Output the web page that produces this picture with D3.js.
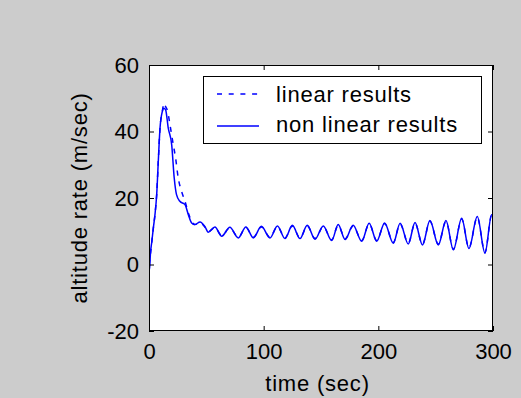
<!DOCTYPE html>
<html>
<head>
<meta charset="utf-8">
<script src="https://cdn.jsdelivr.net/npm/d3@7"></script>
<style>
  html, body { margin: 0; padding: 0; background: #cccccc; }
  svg { display: block; }
  text { font-family: "Liberation Sans", Arial, Helvetica, sans-serif; fill: #000; }
</style>
</head>
<body>
<svg id="chart" width="521" height="398"></svg>
<script>
// ---- data ----
const xTicks = [0, 100, 200, 300];
const yTicks = [-20, 0, 20, 40, 60];
const xLabel = "time (sec)";
const yLabel = "altitude rate (m/sec)";
const seriesNames = ["linear results", "non linear results"];

// non linear results (solid)
const nonlinTime = [0, 0.5, 1.2, 2.5, 3.8, 5.2, 6.7, 8.1, 9.6, 11.6, 13, 14.5, 16.8, 19.8, 22, 24, 26.9, 31.4, 34.3, 37.2, 40, 44.5, 48.8,
  51.7, 57.5, 63.4, 70.5, 77.9, 84.5, 91, 98, 105.5, 112, 118.6, 125, 131.7, 138, 144.8, 152, 159.3, 165, 171, 178,
  185.5, 192, 198.6, 205.5, 213, 219, 226.1, 232, 238.5, 245, 252.3, 259, 265.4, 272.7, 279, 286.3, 293, 298.8, 300];
const nonlinValue = [0, -1.5, 3, 7, 11, 15, 21, 31, 41, 46, 47, 46.5, 41, 36, 26, 21, 19, 18, 15, 12.5, 12, 12.8, 11.4,
  9.7, 11.3, 8.5, 11.2, 8.0, 11.3, 8.0, 11.5, 8.0, 11.6, 7.8, 11.8, 7.8, 11.8, 7.6, 11.6, 7.2, 12.0, 7.5, 11.8,
  7.0, 12.4, 7.0, 12.5, 6.4, 12.4, 6.2, 12.6, 5.9, 13.2, 5.9, 13.2, 4.4, 13.9, 4.8, 14.4, 3.4, 15.0, 14.5];

// linear results (dashed)
const linTime = [0, 1.2, 2.5, 3.8, 5.2, 6.7, 8.1, 9.6, 11.6, 13, 14.5, 16.3, 18.3, 21.2, 23.2, 25.5, 28.4, 31.4, 34.3, 37.2, 40, 44.5, 48.8,
  51.7, 57.5, 63.4, 70.5, 77.9, 84.5, 91, 98, 105.5, 112, 118.6, 125, 131.7, 138, 144.8, 152, 159.3, 165, 171, 178,
  185.5, 192, 198.6, 205.5, 213, 219, 226.1, 232, 238.5, 245, 252.3, 259, 265.4, 272.7, 279, 286.3, 293, 298.8, 300];
const linValue = [0, 3, 7, 11, 15, 21, 31, 41, 46, 48.5, 47.5, 46, 42, 36, 32, 26, 22, 19, 15.5, 13, 12, 12.6, 11.2,
  9.9, 11.1, 8.7, 11.0, 8.2, 11.1, 8.2, 11.3, 8.2, 11.4, 8.0, 11.6, 8.0, 11.6, 7.8, 11.4, 7.4, 11.8, 7.7, 11.6,
  7.2, 12.2, 7.2, 12.3, 6.6, 12.2, 6.4, 12.4, 6.1, 13.0, 6.1, 13.0, 4.6, 13.7, 5.0, 14.2, 3.6, 14.8, 14.3];

// ---- layout ----
const svg = d3.select("#chart");
const plot = { left: 149, top: 65, right: 493, bottom: 331 };
const fontSize = 22;

svg.append("rect").attr("width", 521).attr("height", 398).attr("fill", "#cccccc");

const x = d3.scaleLinear().domain([0, 300]).range([plot.left, plot.right]);
const y = d3.scaleLinear().domain([-20, 60]).range([plot.bottom, plot.top]);

svg.append("rect")
  .attr("x", plot.left).attr("y", plot.top)
  .attr("width", plot.right - plot.left).attr("height", plot.bottom - plot.top)
  .attr("fill", "#ffffff");

svg.append("clipPath").attr("id", "clip").append("rect")
  .attr("x", plot.left).attr("y", plot.top)
  .attr("width", plot.right - plot.left).attr("height", plot.bottom - plot.top);

const line = d3.line().x(d => x(d[0])).y(d => y(d[1])).curve(d3.curveMonotoneX);

const linData = linTime.map((t, i) => [t, linValue[i]]);
const nonlinData = nonlinTime.map((t, i) => [t, nonlinValue[i]]);

const lines = svg.append("g").attr("clip-path", "url(#clip)");
lines.append("path").datum(linData).attr("d", line)
  .attr("fill", "none").attr("stroke", "#0000ff").attr("stroke-width", 1.5)
  .attr("stroke-dasharray", "5,6");
lines.append("path").datum(nonlinData).attr("d", line)
  .attr("fill", "none").attr("stroke", "#0000ff").attr("stroke-width", 1.5);

// axes
const plainFormat = d => String(d);
function styleAxis(g, labels) {
  g.select(".domain").remove();
  g.selectAll(".tick line").attr("stroke", "#000").attr("stroke-width", 1);
  g.selectAll(".tick text")
    .style("font-size", fontSize + "px")
    .style("font-family", '"Liberation Sans", Arial, Helvetica, sans-serif')
    .attr("fill", "#000");
  if (!labels) g.selectAll(".tick text").remove();
}

svg.append("g").attr("transform", `translate(0,${plot.bottom})`)
  .call(d3.axisBottom(x).tickValues(xTicks).tickSizeInner(-5).tickSizeOuter(0).tickPadding(12).tickFormat(plainFormat))
  .call(g => styleAxis(g, true));
svg.append("g").attr("transform", `translate(0,${plot.top})`)
  .call(d3.axisTop(x).tickValues(xTicks).tickSizeInner(-5).tickSizeOuter(0))
  .call(g => styleAxis(g, false));
svg.append("g").attr("transform", `translate(${plot.left},0)`)
  .call(d3.axisLeft(y).tickValues(yTicks).tickSizeInner(-5).tickSizeOuter(0).tickPadding(10).tickFormat(plainFormat))
  .call(g => styleAxis(g, true));
svg.append("g").attr("transform", `translate(${plot.right},0)`)
  .call(d3.axisRight(y).tickValues(yTicks).tickSizeInner(-5).tickSizeOuter(0))
  .call(g => styleAxis(g, false));

// frame
svg.append("rect")
  .attr("x", plot.left + 0.5).attr("y", plot.top + 0.5)
  .attr("width", plot.right - plot.left - 1).attr("height", plot.bottom - plot.top - 1)
  .attr("fill", "none").attr("stroke", "#000").attr("stroke-width", 1);

// axis labels
svg.append("text").attr("x", 317.5).attr("y", 391)
  .attr("text-anchor", "middle").style("font-size", fontSize + "px")
  .style("letter-spacing", "0.8px").text(xLabel);
svg.append("text").attr("transform", "translate(87,198) rotate(-90)")
  .attr("text-anchor", "middle").style("font-size", fontSize + "px")
  .style("letter-spacing", "0.8px").text(yLabel);

// legend
const legend = svg.append("g");
legend.append("rect").attr("x", 203.5).attr("y", 76.5).attr("width", 278).attr("height", 67)
  .attr("fill", "#ffffff").attr("stroke", "#000").attr("stroke-width", 1);
const legendRows = [
  { name: seriesNames[0], dash: "5,6.7", y: 94, ty: 102 },
  { name: seriesNames[1], dash: null, y: 126, ty: 132 }
];
legendRows.forEach(r => {
  legend.append("line").attr("x1", 217).attr("x2", 259).attr("y1", r.y).attr("y2", r.y)
    .attr("stroke", "#0000ff").attr("stroke-width", 1.5)
    .attr("stroke-dasharray", r.dash);
  legend.append("text").attr("x", 276).attr("y", r.ty)
    .style("font-size", fontSize + "px").style("letter-spacing", "0.8px").text(r.name);
});
</script>
</body>
</html>
